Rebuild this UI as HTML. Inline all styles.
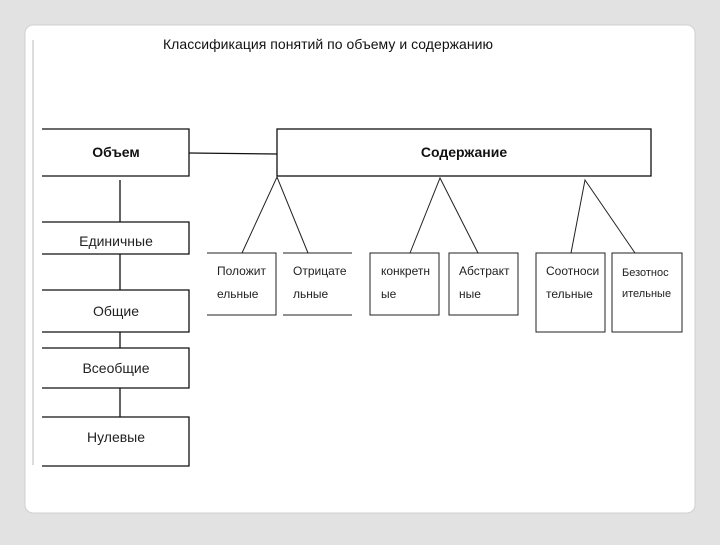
<!DOCTYPE html><html><head><style>body{margin:0;width:720px;height:540px;background:#e2e2e2;overflow:hidden;font-family:"Liberation Sans",sans-serif}</style></head><body>
<svg width="720" height="540" xmlns="http://www.w3.org/2000/svg" font-family="Liberation Sans, sans-serif">
<rect x="25" y="25" width="670" height="488" rx="8" fill="#fff" stroke="#d0d0d0"/>
<line x1="33" y1="40" x2="33" y2="465" stroke="#bbb"/>
<text x="328" y="49" font-size="14" text-anchor="middle" textLength="330" fill="#111">Классификация понятий по объему и содержанию</text>
<g stroke="#111" stroke-width="1.3" fill="none">
<path d="M42 129H189V176H42"/>
<rect x="277" y="129" width="374" height="47"/>
<line x1="189" y1="153" x2="277" y2="154"/>
<path d="M42 222H189V254H42M42 290H189V332H42M42 348H189V388H42M42 417H189V466H42"/>
<path d="M120 180V222M120 254V290M120 332V348M120 388V417"/>
</g>
<g stroke="#222" stroke-width="1" fill="none">
<path d="M207 253H276V315H207M283 253H352M283 315H352"/>
<rect x="370" y="253" width="69" height="62"/><rect x="449" y="253" width="69" height="62"/>
<rect x="536" y="253" width="69" height="79"/><rect x="612" y="253" width="70" height="79"/>
<path d="M242 253L277 177L308 253M410 253L440 178L478 253M571 253L585 180L635 253"/>
</g>
<g font-size="14" font-weight="bold" text-anchor="middle" fill="#111"><text x="116" y="157">Объем</text><text x="464" y="157">Содержание</text></g>
<g font-size="14" text-anchor="middle" fill="#222"><text x="116" y="246">Единичные</text><text x="116" y="316">Общие</text><text x="116" y="373">Всеобщие</text><text x="116" y="442">Нулевые</text></g>
<g font-size="12" fill="#222">
<text x="217" y="275">Положит</text><text x="217" y="298">ельные</text>
<text x="293" y="275">Отрицате</text><text x="293" y="298">льные</text>
<text x="381" y="275">конкретн</text><text x="381" y="298">ые</text>
<text x="459" y="275">Абстракт</text><text x="459" y="298">ные</text>
<text x="546" y="275">Соотноси</text><text x="546" y="298">тельные</text>
<text x="622" y="276" font-size="11">Безотнос</text><text x="622" y="297" font-size="11">ительные</text>
</g>
</svg></body></html>
